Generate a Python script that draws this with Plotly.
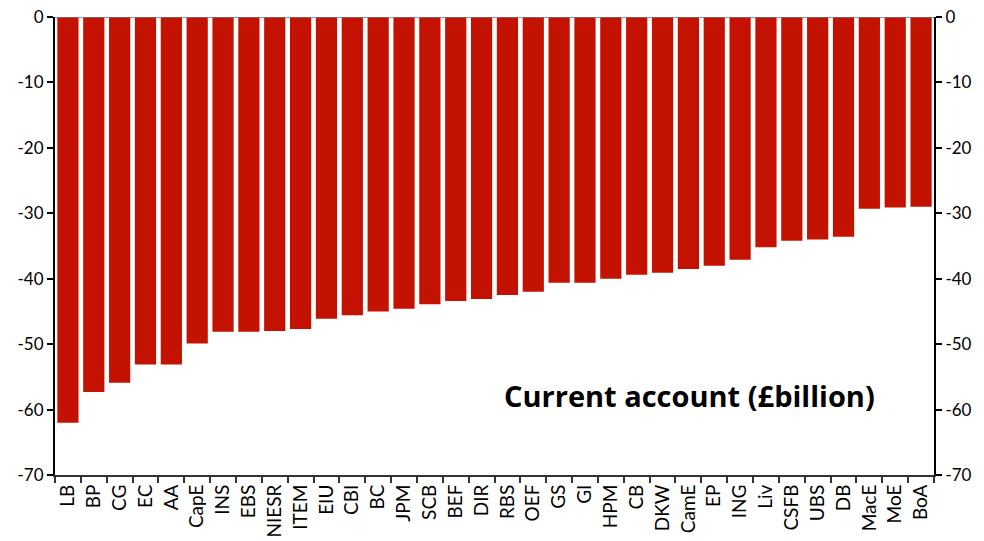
import plotly.graph_objects as go

categories = ["LB", "BP", "CG", "EC", "AA", "CapE", "INS", "EBS", "NIESR", "ITEM", "EIU",
              "CBI", "BC", "JPM", "SCB", "BEF", "DIR", "RBS", "OEF", "GS", "GI", "HPM",
              "CB", "DKW", "CamE", "EP", "ING", "Liv", "CSFB", "UBS", "DB", "MacE", "MoE", "BoA"]
values = [-62.0, -57.3, -55.9, -53.1, -53.1, -49.9, -48.1, -48.1, -48.0, -47.7, -46.1,
          -45.6, -45.0, -44.6, -43.9, -43.4, -43.1, -42.5, -42.0, -40.6, -40.6, -40.0,
          -39.4, -39.1, -38.5, -38.0, -37.1, -35.2, -34.2, -34.0, -33.6, -29.3, -29.1, -29.0]
y_ticks = [0, -10, -20, -30, -40, -50, -60, -70]
y_tick_labels = ["0", "-10", "-20", "-30", "-40", "-50", "-60", "-70"]
title_text = "Current account (£billion)"

font_family = "Lato, 'Open Sans', sans-serif"

fig = go.Figure()
fig.add_trace(go.Bar(x=categories, y=values, marker=dict(color="#C41200", line=dict(width=0)),
                     showlegend=False, hoverinfo="x+y"))
fig.add_trace(go.Bar(x=categories, y=[0] * len(categories), yaxis="y2",
                     showlegend=False, hoverinfo="skip", marker=dict(opacity=0)))

axis_common = dict(range=[-70, 0], tickvals=y_ticks, ticktext=y_tick_labels,
                   ticks="outside", ticklen=6, automargin=False,
                   tickwidth=1.5, tickcolor="black", showline=True, linecolor="black",
                   linewidth=2, showgrid=False, zeroline=False,
                   tickfont=dict(family=font_family, size=17, color="black"))

fig.update_layout(
    width=984, height=541,
    margin=dict(l=55, r=50, t=17, b=66, autoexpand=False),
    paper_bgcolor="white", plot_bgcolor="white",
    bargap=0.18, barmode="overlay",
    xaxis=dict(type="category", range=[-0.5, len(categories) - 0.5], automargin=False,
               tickangle=-90, ticks="outside", tickson="boundaries",
               ticklen=6, tickcolor="#333", tickwidth=1.5, showline=True, linecolor="#333",
               linewidth=2, showgrid=False, zeroline=False,
               tickfont=dict(family=font_family, size=19, color="black")),
    yaxis=dict(side="left", **axis_common),
    yaxis2=dict(side="right", overlaying="y", **axis_common),
    shapes=[dict(type="line", xref="paper", yref="y", x0=0, x1=1, y0=0, y1=0,
                 line=dict(color="#777", width=1.5))],
    annotations=[dict(text="<b>" + title_text + "</b>", xref="paper", yref="y",
                      x=0.722, y=-57.9, xanchor="center", yanchor="middle", showarrow=False,
                      font=dict(family="'Open Sans', sans-serif", size=29, color="black"))],
)

fig.write_html("out.html", config={"displayModeBar": False},
               post_script="document.body.style.margin='0';document.body.style.overflow='hidden';")
